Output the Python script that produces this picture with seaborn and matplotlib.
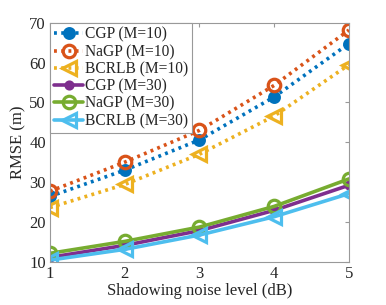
import pandas as pd
import seaborn as sns
import matplotlib.pyplot as plt

noise_level = [1, 2, 3, 4, 5]

cgp_m10 = [26.4, 33.0, 40.6, 51.4, 64.8]
nagp_m10 = [27.7, 35.0, 43.0, 54.3, 68.2]
bcrlb_m10 = [23.6, 29.4, 37.0, 46.6, 59.5]
cgp_m30 = [11.1, 14.1, 17.8, 22.9, 29.2]
nagp_m30 = [12.1, 15.1, 18.7, 23.9, 30.8]
bcrlb_m30 = [10.4, 13.1, 16.7, 21.3, 27.1]

sns.set_style('white')
plt.rcParams['font.family'] = ['Liberation Serif', 'DejaVu Serif']

fig, ax = plt.subplots(figsize=(3.86, 3.05), dpi=100)
fig.subplots_adjust(left=0.1295, right=0.904, top=0.925, bottom=0.142)

dotted = (0, (0.8, 1.2))
series = [
    ('CGP (M=10)', cgp_m10, '#0072BD', dotted, 'o', 'full', 7),
    ('NaGP (M=10)', nagp_m10, '#D95319', dotted, 'o', 'none', 9),
    ('BCRLB (M=10)', bcrlb_m10, '#EDB120', dotted, '<', 'none', 10),
    ('CGP (M=30)', cgp_m30, '#7E2F8E', '-', 'o', 'full', 5),
    ('NaGP (M=30)', nagp_m30, '#77AC30', '-', 'o', 'none', 9),
    ('BCRLB (M=30)', bcrlb_m30, '#4DBEEE', '-', '<', 'none', 10),
]

for name, vals, col, ls, mk, fill, ms in series:
    df = pd.DataFrame({'x': noise_level, 'y': vals})
    sns.lineplot(data=df, x='x', y='y', ax=ax, color=col, linestyle=ls,
                 linewidth=2.6, marker=mk, markersize=ms, fillstyle=fill,
                 markeredgewidth=2.3, markeredgecolor=col, label=name,
                 dash_capstyle='butt')

ax.set_xlim(1, 5)
ax.set_ylim(10, 70)
ax.set_xticks(noise_level)
ax.set_yticks([10, 20, 30, 40, 50, 60, 70])
ax.set_xlabel('Shadowing noise level (dB)', fontsize=12, labelpad=1)
ax.set_ylabel('RMSE (m)', fontsize=12, labelpad=2)
ax.tick_params(direction='in', length=3, width=0.8, color='#999999',
               labelsize=12, top=True, right=True, pad=3)
for s in ax.spines.values():
    s.set_color('#999999')
    s.set_linewidth(0.8)

leg = ax.legend(loc='upper left', fontsize=11.2, frameon=True, fancybox=False,
                borderaxespad=0, handlelength=1.9, handletextpad=0.1,
                labelspacing=0.08, borderpad=0.25, framealpha=1)
leg.get_frame().set_edgecolor('#999999')
leg.get_frame().set_linewidth(0.8)

fig.savefig('out.png', dpi=100)
